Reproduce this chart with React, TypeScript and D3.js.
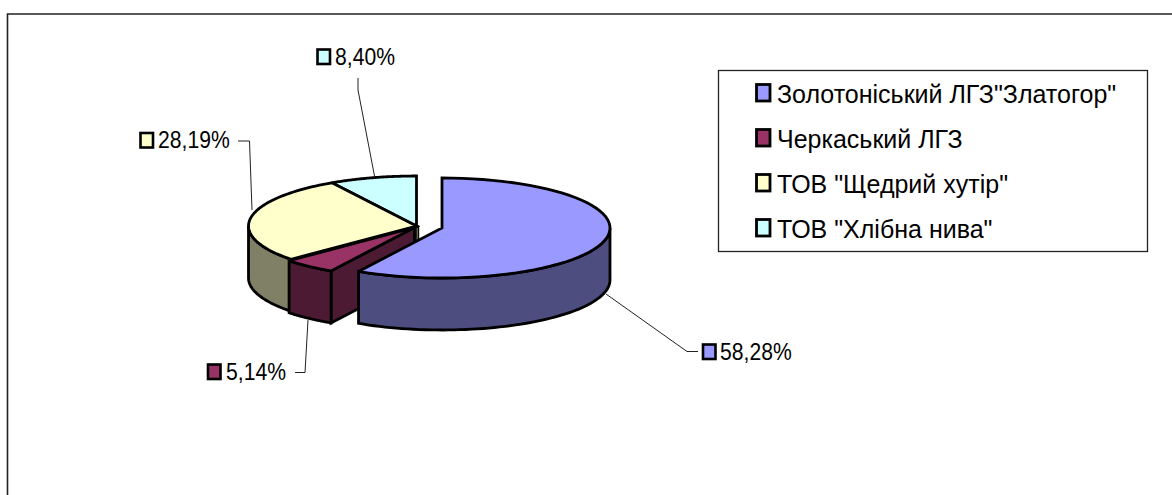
import React from "react";
import * as d3 from "d3";

const categories = ['Золотоніський ЛГЗ"Златогор"', "Черкаський ЛГЗ", 'ТОВ "Щедрий хутір"', 'ТОВ "Хлібна нива"'];
const values = [58.28, 5.14, 28.19, 8.4];
const valueLabels = ["58,28%", "5,14%", "28,19%", "8,40%"];
const topColors = ["#9999FF", "#993366", "#FFFFCC", "#CCFFFF"];
const sideColors = ["#4D4D80", "#4D1A33", "#808066", "#668080"];
const labelPos = [
  { box: [703, 344.5], text: 720, y: 360, line: [[606, 294], [687, 351.5], [698, 351.5]] },
  { box: [208, 364.5], text: 226, y: 380, line: [[308, 320], [305, 372.5], [295, 372.5]] },
  { box: [140.5, 133], text: 158, y: 148, line: [[252, 210], [249.5, 141], [238, 141]] },
  { box: [317.5, 49.5], text: 335, y: 65, line: [[374.5, 176], [358, 90], [358, 78]] },
];

const RX = 168;
const RY = 50;
const DEPTH = 52;
const FONT = "'Liberation Sans', Arial, sans-serif";

const pie = d3.pie<number>().sort(null).value((d) => d);
const slices = pie(values);
const offsets = [[442, 228], [414.5, 227.5], [416.5, 226], [416.5, 226]];

const pt = (i: number, a: number, dy = 0): [number, number] => [
  offsets[i][0] + RX * Math.sin(a),
  offsets[i][1] - RY * Math.cos(a) + dy,
];
const line = d3.line<[number, number]>();
const arcPts = (i: number, a0: number, a1: number, dy = 0) =>
  d3.range(0, 61).map((k) => pt(i, a0 + ((a1 - a0) * k) / 60, dy));

const topPath = (i: number) =>
  line([offsets[i] as [number, number], ...arcPts(i, slices[i].startAngle, slices[i].endAngle)]) + "Z";
const sidePath = (i: number, a0: number, a1: number) =>
  line([...arcPts(i, a0, a1), ...arcPts(i, a1, a0, DEPTH)]) + "Z";
const cutPath = (i: number, a: number) => {
  const p = pt(i, a);
  const c = offsets[i] as [number, number];
  return line([c, p, [p[0], p[1] + DEPTH], [c[0], c[1] + DEPTH]]) + "Z";
};

export default function App() {
  const s = slices;
  const stroke = { stroke: "#000", strokeWidth: 2.8, strokeLinejoin: "miter" as const, strokeMiterlimit: 3 };
  return (
    <svg width={1172} height={495} style={{ position: "absolute", left: 0, top: 0, background: "#fff" }}>
      <path d="M7.5 495V14H1172" fill="none" stroke="#222" strokeWidth={1.6} />
      {labelPos.map((l, i) => (
        <path key={i} d={line(l.line as [number, number][])!} fill="none" stroke="#222" strokeWidth={1} />
      ))}
      <rect x={416} y={226} width={2.5} height={16} fill={sideColors[2]} stroke="#000" strokeWidth={1.4} />
      <path d={sidePath(2, s[2].startAngle, Math.PI * 1.5)} fill={sideColors[2]} {...stroke} />
      <path d={cutPath(1, s[1].startAngle)} fill={sideColors[1]} {...stroke} />
      <path d={sidePath(1, s[1].startAngle, s[1].endAngle)} fill={sideColors[1]} {...stroke} />
      {[3, 2, 1].map((i) => (
        <path key={i} d={topPath(i)} fill={topColors[i]} {...stroke} />
      ))}
      <path d={sidePath(0, Math.PI / 2, s[0].endAngle)} fill={sideColors[0]} {...stroke} />
      <path d={topPath(0)} fill={topColors[0]} {...stroke} />
      {labelPos.map((l, i) => (
        <g key={i}>
          <rect x={l.box[0]} y={l.box[1]} width={12.5} height={14.5} fill={topColors[i]} stroke="#000" strokeWidth={2.6} />
          <text transform={`translate(${l.text},${l.y}) scale(0.92,1)`} fontFamily={FONT} fontSize={23} fill="#000">{valueLabels[i]}</text>
        </g>
      ))}
      <rect x={718.5} y={70.5} width={429} height={181} fill="#fff" stroke="#222" strokeWidth={1.3} />
      {categories.map((c, i) => (
        <g key={c}>
          <rect x={756.5} y={84.5 + i * 45} width={13.5} height={16.5} fill={topColors[i]} stroke="#000" strokeWidth={2.8} />
          <text x={777} y={103 + i * 45} fontFamily={FONT} fontSize={25} fill="#000">{c}</text>
        </g>
      ))}
    </svg>
  );
}
